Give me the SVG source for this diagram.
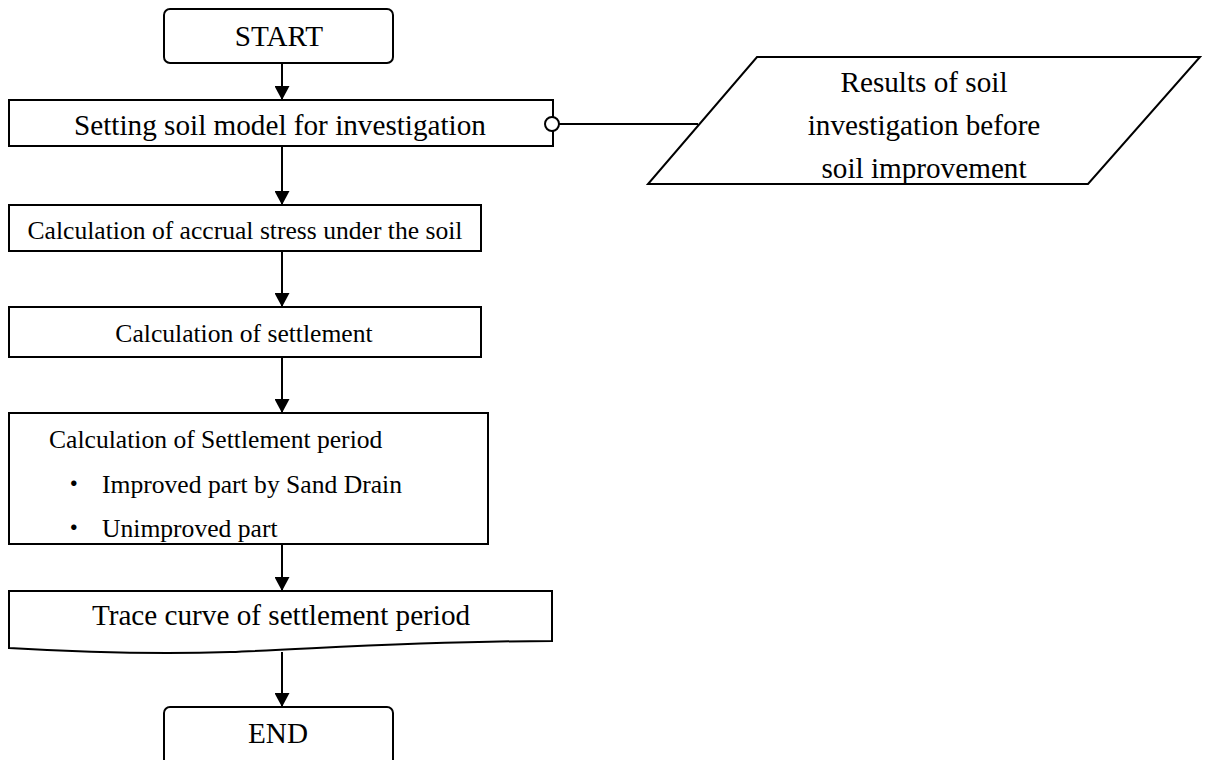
<svg xmlns="http://www.w3.org/2000/svg" width="1208" height="760" viewBox="0 0 1208 760">
<style>
.box{fill:#fff;stroke:#000;stroke-width:2}
.t{font-family:"Liberation Serif","Times New Roman",serif;font-size:25.6px;fill:#000}
.L{font-size:29.2px}
.c{text-anchor:middle}
.b{font-family:"Liberation Serif","Noto Sans CJK JP",serif}
.ln{stroke:#000;stroke-width:2;fill:none}
</style>
<defs>
<marker id="ah" markerWidth="15" markerHeight="15" refX="14" refY="7.5" orient="auto" markerUnits="userSpaceOnUse" viewBox="0 0 15 15">
<path d="M0,0 L14,7.5 L0,15 Z" fill="#000"/>
</marker>
</defs>
<rect width="1208" height="760" fill="#fff"/>
<g id="connectors">
<line class="ln" x1="282" y1="63" x2="282" y2="100" marker-end="url(#ah)"/>
<line class="ln" x1="282" y1="146" x2="282" y2="205" marker-end="url(#ah)"/>
<line class="ln" x1="282" y1="251" x2="282" y2="307" marker-end="url(#ah)"/>
<line class="ln" x1="282" y1="357" x2="282" y2="413" marker-end="url(#ah)"/>
<line class="ln" x1="282" y1="544" x2="282" y2="591" marker-end="url(#ah)"/>
<line class="ln" x1="282" y1="652" x2="282" y2="707" marker-end="url(#ah)"/>
<line class="ln" x1="559" y1="124" x2="698" y2="124"/>
</g>
<g id="start">
<rect class="box" x="164" y="9" width="229" height="54" rx="6"/>
<text class="t L c" x="279" y="46">START</text>
</g>
<g id="setting">
<rect class="box" x="9" y="100" width="544" height="46"/>
<text class="t L c" x="280" y="135">Setting soil model for investigation</text>
</g>
<g id="results">
<polygon class="box" points="757,57 1200,57 1088,184 648,184"/>
<text class="t L c" x="924" y="92">Results of soil</text>
<text class="t L c" x="924" y="135">investigation before</text>
<text class="t L c" x="924" y="178">soil improvement</text>
</g>
<g id="accrual">
<rect class="box" x="9" y="205" width="472" height="46"/>
<text class="t c" x="245" y="239">Calculation of accrual stress under the soil</text>
</g>
<g id="settlement">
<rect class="box" x="9" y="307" width="472" height="50"/>
<text class="t c" x="244" y="342">Calculation of settlement</text>
</g>
<g id="period">
<rect class="box" x="9" y="413" width="479" height="131"/>
<text class="t" x="49" y="448">Calculation of Settlement period</text>
<text class="t b" x="61" y="493">・</text>
<text class="t" x="102" y="493">Improved part by Sand Drain</text>
<text class="t b" x="61" y="537">・</text>
<text class="t" x="102" y="537">Unimproved part</text>
</g>
<g id="trace">
<path class="box" d="M9,591 H552 V641 C430,641 330,648 230,652 C140,655 60,651 9,648 Z"/>
<text class="t L c" x="281" y="625">Trace curve of settlement period</text>
</g>
<g id="end">
<rect class="box" x="164" y="707" width="229" height="62" rx="6"/>
<text class="t L c" x="278" y="743">END</text>
</g>
<g id="port">
<circle cx="552" cy="124" r="7" fill="#fff" stroke="#000" stroke-width="2"/>
</g>
</svg>
